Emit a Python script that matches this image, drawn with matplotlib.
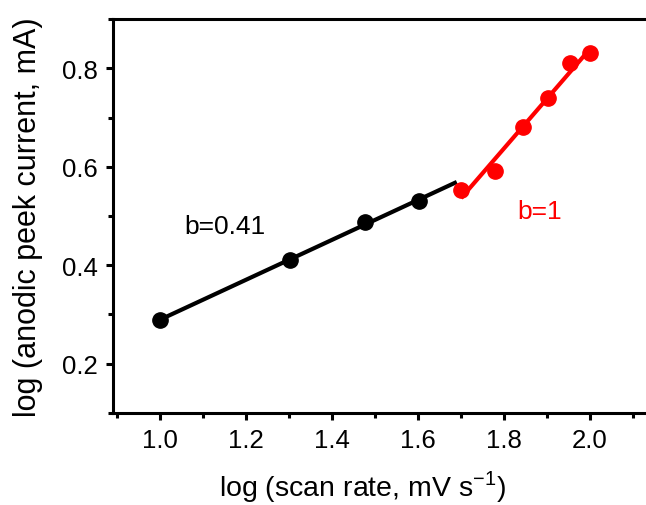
import numpy as np
import matplotlib
matplotlib.use('Agg')
import matplotlib.pyplot as plt
from matplotlib.ticker import MultipleLocator

plt.rcParams['font.family'] = ['Liberation Sans', 'DejaVu Sans']
plt.rcParams['mathtext.fontset'] = 'custom'
plt.rcParams['mathtext.rm'] = 'Liberation Sans'

# 数据
x_low = [1.0, 1.301, 1.477, 1.602]
y_low = [0.289, 0.411, 0.488, 0.530]
x_high = [1.699, 1.778, 1.845, 1.903, 1.954, 2.0]
y_high = [0.552, 0.591, 0.681, 0.740, 0.812, 0.832]
fit_range_low = [1.0, 1.69]
fit_range_high = [1.70, 2.0]

fig = plt.figure(figsize=(6.46, 5.06), dpi=100)
ax = fig.add_axes([0.175, 0.182, 0.838, 0.778])

# 线性拟合
k1, c1 = np.polyfit(x_low, y_low, 1)
k2, c2 = np.polyfit(x_high, y_high, 1)
fx1 = np.array(fit_range_low)
fx2 = np.array(fit_range_high)
ax.plot(fx1, k1 * fx1 + c1, color='black', lw=3, solid_capstyle='butt')
ax.plot(fx2, k2 * fx2 + c2, color='red', lw=3, solid_capstyle='butt')
ax.plot(x_low, y_low, 'o', color='black', ms=11)
ax.plot(x_high, y_high, 'o', color='red', ms=11)

ax.text(1.055, 0.48, 'b=0.41', fontsize=19, color='black', va='center')
ax.text(1.83, 0.51, 'b=1', fontsize=19, color='red', va='center')

ax.set_xlim(0.89, 2.15)
ax.set_ylim(0.1, 0.9)
ax.xaxis.set_minor_locator(MultipleLocator(0.1))
ax.yaxis.set_minor_locator(MultipleLocator(0.1))
ax.set_xticks([1.0, 1.2, 1.4, 1.6, 1.8, 2.0])
ax.set_yticks([0.2, 0.4, 0.6, 0.8])

for s in ['left', 'bottom', 'top']:
    ax.spines[s].set_linewidth(2.2)
ax.spines['right'].set_visible(False)
ax.tick_params(which='major', direction='out', length=5, width=2.2, labelsize=18.5, pad=6)
ax.tick_params(which='minor', direction='out', length=3.5, width=2.2)

ax.set_xlabel(r'log (scan rate, mV s$^{\mathregular{-1}}$)', fontsize=20.5)
ax.xaxis.set_label_coords(0.461, -0.14)
ax.set_ylabel('log (anodic peek current, mA)', fontsize=22)
ax.yaxis.set_label_coords(-0.129, 0.5)

fig.savefig('out.png', dpi=100)
